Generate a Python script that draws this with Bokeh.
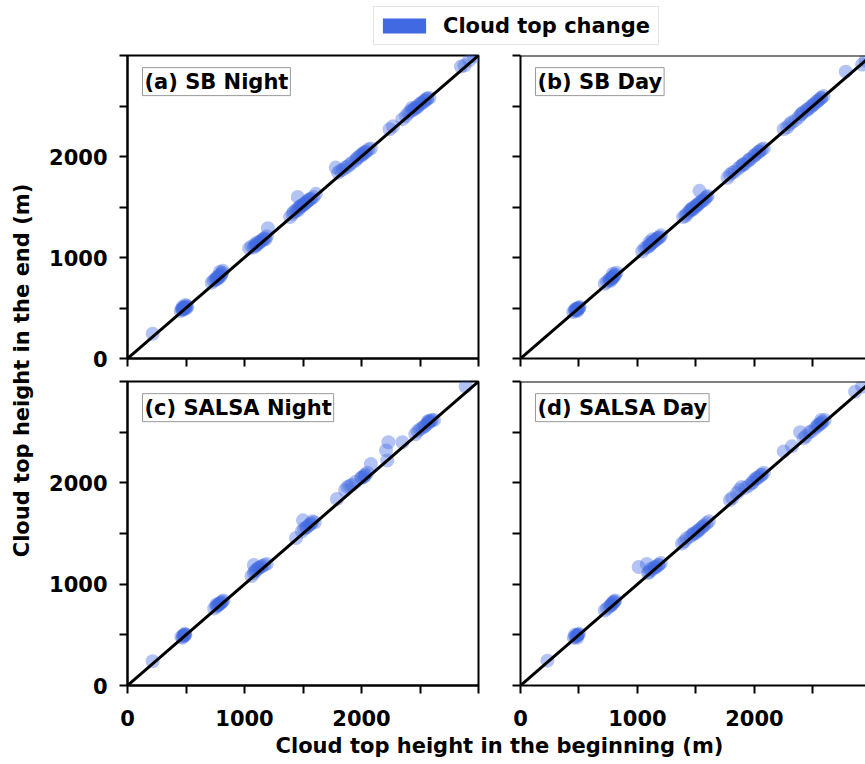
from math import pi
from bokeh.plotting import figure
from bokeh.models import (Range1d, FixedTicker, Label, Slope, Span, Legend,
                          LegendItem, ColumnDataSource)
from bokeh.layouts import row, column
from bokeh.embed import file_html
from bokeh.resources import INLINE

# ---------------- data ----------------
labeled_ticks = [0, 1000, 2000]
unlabeled_ticks = [500, 1500, 2500, 3000]
all_ticks = [0, 500, 1000, 1500, 2000, 2500, 3000]

panel_titles = ["(a) SB Night", "(b) SB Day", "(c) SALSA Night", "(d) SALSA Day"]
legend_label = "Cloud top change"
x_title = "Cloud top height in the beginning (m)"
y_title = "Cloud top height in the end (m)"

a_begin = [215, 455, 465, 475, 480, 490, 500, 505, 470, 495, 510,
           720, 735, 750, 760, 770, 780, 790, 800, 810, 790, 815,
           1040, 1060, 1080, 1090, 1100, 1110, 1130, 1150, 1170, 1180, 1190, 1200,
           1390, 1410, 1420, 1440, 1450, 1460, 1470, 1480, 1500, 1510, 1530, 1550, 1570, 1590, 1610, 1455,
           1780, 1800, 1820, 1840, 1860, 1880, 1900, 1920, 1950, 1970, 2000, 2020, 2040, 2060, 2080,
           2240, 2270, 2350, 2380, 2400, 2420, 2440, 2460, 2480, 2500, 2520, 2540, 2560, 2580, 2430,
           2850, 2880, 2920, 2960,
           470, 480, 490, 760, 780, 800, 1100, 1120, 1140, 1160,
           1480, 1500, 1520, 1540, 1560, 1960, 1990, 2010, 2030,
           2450, 2480, 2510, 2540, 2560]
a_end = [245, 470, 490, 485, 500, 505, 495, 520, 510, 530, 510,
         750, 770, 780, 800, 790, 820, 810, 840, 850, 860, 870,
         1090, 1110, 1100, 1130, 1120, 1150, 1150, 1170, 1190, 1180, 1210, 1290,
         1400, 1430, 1450, 1460, 1480, 1470, 1500, 1510, 1520, 1530, 1550, 1570, 1580, 1600, 1630, 1600,
         1890, 1840, 1860, 1870, 1890, 1900, 1920, 1940, 1960, 1990, 2010, 2030, 2050, 2070, 2080,
         2270, 2300, 2370, 2400, 2430, 2450, 2460, 2480, 2490, 2520, 2530, 2550, 2570, 2580, 2480,
         2890, 2900, 2950, 2990,
         485, 495, 505, 785, 805, 825, 1120, 1140, 1160, 1180,
         1500, 1520, 1540, 1560, 1580, 1980, 2010, 2030, 2045,
         2470, 2500, 2530, 2555, 2575]

b_begin = [450, 465, 480, 490, 500, 470, 485, 505,
           720, 740, 760, 770, 780, 790, 800, 810, 820, 790,
           1040, 1060, 1080, 1100, 1110, 1120, 1140, 1150, 1170, 1190, 1200, 1100, 1130,
           1390, 1410, 1420, 1440, 1460, 1470, 1480, 1500, 1510, 1530, 1550, 1570, 1590, 1600, 1450, 1530,
           1770, 1790, 1810, 1830, 1860, 1880, 1900, 1920, 1950, 1970, 2000, 2020, 2040, 2060, 2080,
           2250, 2280, 2300, 2320, 2350, 2380, 2400, 2420, 2450, 2470, 2490, 2510, 2530, 2550, 2570, 2590,
           2780, 2920, 2950,
           470, 480, 495, 760, 780, 800, 1100, 1130, 1160, 1180,
           1470, 1500, 1520, 1550, 1580, 1900, 1950, 2000, 2040,
           2400, 2450, 2500, 2540, 2570]
b_end = [460, 475, 480, 490, 500, 490, 470, 510,
         740, 760, 780, 770, 800, 800, 820, 830, 850, 840,
         1060, 1090, 1100, 1110, 1130, 1140, 1160, 1170, 1190, 1200, 1220, 1150, 1180,
         1400, 1410, 1430, 1450, 1470, 1490, 1480, 1510, 1520, 1540, 1560, 1570, 1600, 1610, 1470, 1660,
         1790, 1820, 1840, 1850, 1880, 1900, 1920, 1930, 1960, 1980, 2010, 2030, 2050, 2070, 2080,
         2270, 2290, 2320, 2340, 2360, 2390, 2420, 2440, 2460, 2480, 2500, 2520, 2540, 2560, 2580, 2600,
         2840, 2910, 2950,
         480, 490, 500, 780, 790, 815, 1120, 1150, 1175, 1195,
         1485, 1510, 1530, 1560, 1590, 1915, 1965, 2010, 2050,
         2420, 2465, 2510, 2550, 2580]

c_begin = [215, 460, 475, 485, 495, 470, 490,
           740, 760, 770, 780, 790, 800, 810, 820, 760,
           1060, 1080, 1090, 1100, 1120, 1140, 1170, 1190, 1080,
           1440, 1490, 1510, 1530, 1550, 1570, 1600, 1500, 1580,
           1790, 1860, 1880, 1900, 1920, 1950, 2000, 2020, 2030, 2050, 2080,
           2210, 2220, 2230, 2350, 2460, 2480, 2500, 2520, 2540, 2560, 2580, 2600, 2620, 2570,
           2890,
           480, 490, 780, 800, 1120, 1150, 1530, 1560, 2000, 2030,
           2540, 2570, 2590]
c_end = [240, 480, 490, 495, 500, 470, 510,
         760, 780, 790, 800, 810, 820, 830, 840, 800,
         1080, 1110, 1130, 1140, 1160, 1170, 1190, 1200, 1190,
         1455, 1520, 1550, 1560, 1580, 1600, 1610, 1630, 1620,
         1840, 1930, 1960, 1970, 1980, 2010, 2050, 2060, 2080, 2100, 2185,
         2320, 2220, 2400, 2400, 2480, 2510, 2530, 2540, 2560, 2580, 2600, 2620, 2620, 2610,
         2950,
         490, 500, 800, 815, 1160, 1180, 1560, 1590, 2050, 2070,
         2560, 2600, 2610]

d_begin = [230, 455, 470, 480, 490, 500, 465, 485,
           720, 740, 760, 780, 790, 800, 810, 770,
           1010, 1080, 1090, 1100, 1120, 1140, 1160, 1180, 1200, 1110,
           1380, 1400, 1420, 1450, 1470, 1490, 1510, 1530, 1550, 1570, 1590, 1610,
           1790, 1810, 1850, 1870, 1890, 1920, 1950, 1980, 2000, 2020, 2040, 2060, 2080,
           2250, 2320, 2390, 2420, 2440, 2470, 2490, 2520, 2540, 2560, 2580, 2600, 2570,
           2860, 2920,
           480, 490, 780, 800, 1150, 1180, 1480, 1520, 1560, 1980, 2020, 2060,
           2540, 2570]
d_end = [245, 470, 480, 490, 500, 510, 500, 470,
         740, 760, 780, 800, 820, 830, 840, 790,
         1170, 1200, 1110, 1120, 1140, 1160, 1170, 1190, 1210, 1150,
         1400, 1420, 1450, 1470, 1490, 1500, 1520, 1540, 1560, 1580, 1600, 1620,
         1830, 1850, 1900, 1930, 1960, 1950, 1970, 2000, 2030, 2050, 2060, 2080, 2100,
         2310, 2360, 2500, 2440, 2460, 2500, 2510, 2540, 2570, 2580, 2600, 2620, 2620,
         2900, 2950,
         490, 500, 800, 820, 1170, 1190, 1500, 1530, 1570, 2000, 2040, 2080,
         2560, 2590]

# ---------------- style ----------------
FONT = "DejaVu Sans"
FS = "21px"
BLUE = "#4169e1"


def style_axis(ax, show_labels, standoff):
    if show_labels:
        ax.ticker = FixedTicker(ticks=labeled_ticks, minor_ticks=unlabeled_ticks)
    else:
        ax.ticker = FixedTicker(ticks=[], minor_ticks=all_ticks)
    ax.axis_line_color = "black"
    ax.axis_line_width = 2
    for kind in ("major", "minor"):
        setattr(ax, kind + "_tick_line_color", "black")
        setattr(ax, kind + "_tick_line_width", 2)
        setattr(ax, kind + "_tick_in", 0)
        setattr(ax, kind + "_tick_out", 8)
    ax.major_label_text_font = FONT
    ax.major_label_text_font_style = "bold"
    ax.major_label_text_color = "black"
    ax.major_label_text_font_size = FS
    ax.major_label_standoff = standoff


def make_panel(begin, end, title, right_col, top_row):
    xmax = 2949 if right_col else 3000
    p = figure(width=377 if right_col else 446,
               height=326 if top_row else 356,
               x_range=Range1d(0, xmax), y_range=Range1d(0, 3000),
               output_backend="svg", toolbar_location=None,
               min_border_left=32 if right_col else 85,
               min_border_right=0 if right_col else 10,
               min_border_top=2,
               min_border_bottom=21 if top_row else 50)
    p.grid.visible = False
    p.background_fill_color = "white"
    p.border_fill_color = "white"
    style_axis(p.xaxis[0], not top_row, 16)
    style_axis(p.yaxis[0], not right_col, 12)
    if right_col:
        p.outline_line_color = None
        p.add_layout(Span(location=3000, dimension="width",
                          line_color="black", line_width=2))
    else:
        p.outline_line_color = "black"
        p.outline_line_width = 2
    p.scatter(begin, end, size=14, fill_color=BLUE, fill_alpha=0.4,
              line_color=None)
    p.add_layout(Slope(gradient=1, y_intercept=0, line_color="black",
                       line_width=3))
    p.add_layout(Label(x=128, y=2880, text=title, text_align="left",
                       text_baseline="top", text_font=FONT,
                       text_font_style="bold", text_font_size=FS,
                       text_color="black",
                       background_fill_color="white",
                       border_line_color="#999999", border_line_width=1,
                       padding=2))
    return p


pa = make_panel(a_begin, a_end, panel_titles[0], False, True)
pb = make_panel(b_begin, b_end, panel_titles[1], True, True)
pc = make_panel(c_begin, c_end, panel_titles[2], False, False)
pd = make_panel(d_begin, d_end, panel_titles[3], True, False)


def blank(w, h):
    f = figure(width=w, height=h, x_range=Range1d(0, w), y_range=Range1d(0, h),
               x_axis_type=None, y_axis_type=None, output_backend="svg",
               toolbar_location=None, min_border=0)
    f.outline_line_color = None
    f.grid.visible = False
    return f


# legend strip (the bar renderer has zero height: it only feeds the legend)
p_leg = blank(823, 53)
src = ColumnDataSource(dict(x=[0], top=[0]))
r = p_leg.vbar(x="x", top="top", bottom=0, width=0, source=src,
               fill_color=BLUE, line_color=None)
leg = Legend(items=[LegendItem(label=legend_label, renderers=[r])],
             location=(331, 8), orientation="vertical",
             glyph_width=54, glyph_height=19, label_standoff=12,
             label_height=31, label_width=212,
             padding=3, margin=0,
             label_text_font=FONT, label_text_font_style="bold",
             label_text_font_size=FS, label_text_color="black",
             border_line_color="#cccccc", border_line_width=1,
             background_fill_color="white", background_fill_alpha=1.0)
p_leg.add_layout(leg)

# x label strip
p_xl = blank(823, 29)
p_xl.add_layout(Label(x=457, y=19, text=x_title, text_align="center",
                      text_baseline="alphabetic", text_font=FONT,
                      text_font_style="bold", text_font_size=FS,
                      text_color="black"))

# y label strip
p_yl = blank(42, 764)
p_yl.add_layout(Label(x=21, y=394, text=y_title, angle=pi / 2,
                      text_align="center", text_baseline="middle",
                      text_font=FONT, text_font_style="bold",
                      text_font_size=FS, text_color="black"))

layout = row(p_yl, column(p_leg, row(pa, pb), row(pc, pd), p_xl))

open("out.html", "w").write(file_html(layout, INLINE))
